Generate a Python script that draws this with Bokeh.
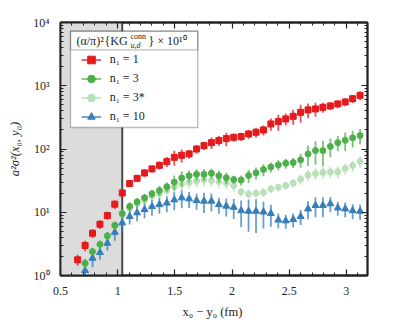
import math
from bokeh.plotting import figure
from bokeh.models import (ColumnDataSource, BoxAnnotation, Span, Label, Legend, LegendItem,
                          LinearAxis, LogAxis, LogTicker, SingleIntervalTicker,
                          CustomJSTickFormatter, Range1d)
from bokeh.embed import file_html
from bokeh.resources import INLINE

# ---------------- data ----------------
x_fm = [0.650, 0.715, 0.780, 0.845, 0.910, 0.975, 1.040, 1.105, 1.170, 1.235,
        1.300, 1.365, 1.430, 1.495, 1.560, 1.625, 1.690, 1.755, 1.820, 1.885,
        1.950, 2.015, 2.080, 2.145, 2.210, 2.275, 2.340, 2.405, 2.470, 2.535,
        2.600, 2.665, 2.730, 2.795, 2.860, 2.925, 2.990, 3.055, 3.120]

n1_1 = [1.77, 2.98, 4.66, 6.46, 8.87, 13.4, 20.2, 28.4, 34.4, 41.9,
        48.5, 55.3, 63.2, 73.9, 79.5, 83.7, 100, 113, 126, 136,
        146, 153, 157, 173, 184, 200, 249, 271, 299, 329,
        380, 415, 430, 456, 480, 516, 555, 625, 705]
n1_1_err = [0.35, 0.57, 0.75, 1.03, 1.29, 2.1, 2.9, 3.4, 4.1, 6.1,
            5.8, 8.0, 11.4, 19.7, 19, 13.4, 15.5, 17, 26, 24.5,
            35, 23, 23.6, 27.7, 33, 36, 54, 77, 64, 88,
            120, 110, 107, 82, 70, 75, 80, 91, 113]

x_rest = x_fm[1:]

n1_3 = [1.56, 2.39, 3.12, 4.24, 6.23, 9.53, 12.4, 14.6, 16.9, 19.7,
        22.0, 25.2, 30.0, 34.9, 37.7, 39.8, 39.8, 41.3, 37.7, 35.1,
        32.9, 32.3, 38.0, 41.9, 47.3, 52.0, 56.1, 59.4, 61.0, 67.3,
        83.7, 94.4, 94.4, 110, 126, 137, 150, 163]
n1_3_err = [0.28, 0.35, 0.46, 0.62, 0.91, 1.39, 1.81, 2.1, 2.5, 2.9,
            4.0, 4.5, 8.0, 9.3, 8.1, 8.0, 8.6, 7.4, 8.1, 7.0,
            4.8, 5.8, 9.1, 9.0, 10.2, 9.4, 10.1, 10.7, 11, 16.8,
            30, 38, 41, 36, 34, 45, 44, 44]

n1_3s = [1.49, 2.31, 2.98, 4.06, 5.94, 9.03, 11.6, 13.7, 15.6, 18.0,
         19.7, 22.0, 25.5, 27.9, 29.5, 31.1, 32.5, 31.7, 30.5, 28.9,
         26.4, 21.0, 19.5, 20.0, 20.6, 23.4, 24.8, 26.4, 28.9, 33.1,
         38.7, 40.9, 42.4, 43.2, 43.5, 49.0, 54.7, 63.2]
n1_3s_err = [0.22, 0.35, 0.45, 0.61, 0.89, 1.35, 1.74, 2.1, 2.3, 2.7,
             3.0, 3.3, 5.1, 5.6, 5.9, 6.2, 6.5, 6.3, 6.1, 5.8,
             5.3, 3.2, 2.9, 3.0, 3.1, 3.5, 3.7, 4.0, 4.3, 6.0,
             7.7, 8.2, 8.5, 8.6, 8.7, 9.8, 10.9, 12.6]

n1_10 = [1.20, 1.88, 2.31, 3.24, 4.83, 6.80, 8.55, 9.79, 11.0, 12.3,
         13.2, 14.0, 15.7, 16.9, 16.3, 15.3, 15.0, 15.0, 13.2, 12.5,
         12.0, 10.6, 10.4, 10.4, 10.1, 9.53, 7.53, 7.31, 7.67, 8.55,
         11.3, 12.8, 12.8, 13.6, 11.7, 11.3, 10.6, 10.4]
n1_10_err = [0.22, 0.53, 0.53, 0.75, 1.28, 1.81, 2.13, 2.6, 2.93, 3.48,
             3.74, 3.96, 4.96, 5.34, 4.61, 4.33, 5.25, 4.74, 3.74, 3.95,
             4.2, 4.77, 5.5, 5.7, 4.55, 3.62, 2.0, 1.82, 1.91, 2.27,
             3.57, 4.48, 4.48, 3.62, 2.91, 3.0, 2.82, 2.77]

labels = ["n\u2081 = 1", "n\u2081 = 3", "n\u2081 = 3*", "n\u2081 = 10"]
shade_edge = 1.04  # fm

# ---------------- layout / style ----------------
FONT = "Liberation Serif"
X0, X1 = 0.5, 3.185
Y0, Y1 = 1.0, 1.0e4
FL, FT, FW, FH = 60, 22, 307, 253   # frame position on the page (px)
DARK = "#222222"


def px2x(sx):
    return X0 + (sx - FL) / FW * (X1 - X0)


def px2y(sy):
    return 10 ** (math.log10(Y0) + (FT + FH - sy) / FH * (math.log10(Y1) - math.log10(Y0)))


p = figure(frame_width=FW, frame_height=FH, x_range=Range1d(X0, X1), y_range=Range1d(Y0, Y1),
           y_axis_type="log", output_backend="svg", toolbar_location=None,
           min_border_left=FL, min_border_top=FT, min_border_right=28,
           min_border_bottom=46, background_fill_color="white", border_fill_color="white")
p.grid.visible = False
p.outline_line_color = DARK
p.outline_line_width = 1.8

# shaded region
p.add_layout(BoxAnnotation(left=X0, right=shade_edge, fill_color="#dcdcdc", fill_alpha=1.0,
                           line_color=None, level="underlay"))
p.add_layout(Span(location=shade_edge, dimension="height", line_color="#4a4a4a",
                  line_width=2, level="underlay"))


def series(x, y, err, color, marker, size, ecolor=None, ealpha=0.75):
    src = ColumnDataSource(dict(x=x, y=y,
                                lo=[v - e for v, e in zip(y, err)],
                                hi=[v + e for v, e in zip(y, err)]))
    seg = p.segment(x0="x", y0="lo", x1="x", y1="hi", source=src,
                    line_color=ecolor or color, line_width=1.8, line_alpha=ealpha)
    sc = p.scatter("x", "y", source=src, marker=marker, size=size,
                   fill_color=color, line_color=color)
    return seg, sc


RED, GREEN, LGREEN, BLUE = "#e41a1c", "#4daf4a", "#b9e0b6", "#377eb8"
r3s = series(x_rest, n1_3s, n1_3s_err, LGREEN, "circle", 6, ealpha=0.8)
r10 = series(x_rest, n1_10, n1_10_err, BLUE, "triangle", 7)
r3 = series(x_rest, n1_3, n1_3_err, GREEN, "circle", 6)
r1 = series(x_fm, n1_1, n1_1_err, RED, "square", 6)

# axes
xa = p.xaxis[0]
xa.ticker = SingleIntervalTicker(interval=0.5, num_minor_ticks=5)
xa.formatter = CustomJSTickFormatter(code="return String(Math.round(tick*10)/10);")
ya = p.yaxis[0]
ya.ticker = LogTicker(num_minor_ticks=10)
ya.formatter = CustomJSTickFormatter(code="""
const sup = {"0":"\u2070","1":"\u00b9","2":"\u00b2","3":"\u00b3","4":"\u2074","5":"\u2075","-":"\u207b"};
const e = Math.round(Math.log10(tick));
return "10" + String(e).split("").map(c => sup[c]).join("");
""")
blank = CustomJSTickFormatter(code="return '';")
top = LinearAxis(ticker=xa.ticker, formatter=blank, major_label_text_font_size="0px")
p.add_layout(top, "above")
right = LogAxis(ticker=ya.ticker, formatter=blank, major_label_text_font_size="0px")
p.add_layout(right, "right")

for ax in p.axis:
    ax.major_tick_in = 6
    ax.major_tick_out = 0
    ax.minor_tick_in = 3
    ax.minor_tick_out = 0
    ax.axis_line_color = DARK
    ax.axis_line_width = 1.8
    ax.major_tick_line_color = DARK
    ax.major_tick_line_width = 1.2
    ax.minor_tick_line_color = DARK
    ax.minor_tick_line_width = 1.0
for ax in (xa, ya):
    ax.major_label_text_font = FONT
    ax.major_label_text_font_size = "12px"
    ax.major_label_text_color = "#222222"
    ax.axis_label_text_font = FONT
    ax.axis_label_text_font_size = "12.5px"
    ax.axis_label_text_color = "#222222"
xa.major_label_standoff = 11
ya.major_label_standoff = 11
xa.axis_label = "x\u2080 \u2212 y\u2080  (fm)"
xa.axis_label_text_font_style = "normal"
xa.axis_label_standoff = 7
ya.axis_label = "a\u00b2\u03c3\u00b2(x\u2080, y\u2080)"
ya.axis_label_text_font_style = "italic"
ya.axis_label_standoff = 8

# legend frame
BL, BR, BT, BB, BSEP = 70, 197.3, 30.7, 127, 49.3
p.add_layout(BoxAnnotation(left=px2x(BL), right=px2x(BR), top=px2y(BT), bottom=px2y(BB),
                           fill_color="white", fill_alpha=1.0, line_color=DARK, line_width=1.3))
p.add_layout(BoxAnnotation(left=px2x(BL), right=px2x(BR), top=px2y(BT), bottom=px2y(BSEP),
                           fill_alpha=0.0, line_color=DARK, line_width=1.3))

# legend title pieces
title_parts = [
    ("(\u03b1/\u03c0)\u00b2", 76, 40.5, "12px", "normal"),
    ("{KG", 104, 40.5, "12px", "normal"),
    ("conn", 130, 35.5, "8px", "normal"),
    ("u,d", 130, 45, "8px", "italic"),
    ("} \u00d7 10\u00b9\u2070", 148, 40.5, "12px", "normal"),
]
for txt, sx, sy, fs, st in title_parts:
    p.add_layout(Label(x=px2x(sx), y=px2y(sy), text=txt, text_font=FONT, text_font_size=fs,
                       text_font_style=st, text_align="left", text_baseline="middle",
                       text_color="#222222"))

items = [LegendItem(label=labels[0], renderers=list(r1)),
         LegendItem(label=labels[1], renderers=list(r3)),
         LegendItem(label=labels[2], renderers=list(r3s)),
         LegendItem(label=labels[3], renderers=list(r10))]
leg = Legend(items=items, location=(80.7 - FL, FT + FH - 125.8), orientation="vertical",
             padding=0, margin=0, spacing=0, glyph_width=20, glyph_height=19,
             label_height=19, label_width=20, label_standoff=9,
             label_text_font=FONT, label_text_font_size="12px", label_text_font_style="normal",
             label_text_color="#222222", border_line_color=None, background_fill_alpha=0.0)
p.add_layout(leg)

open("out.html", "w").write(file_html(p, INLINE))
